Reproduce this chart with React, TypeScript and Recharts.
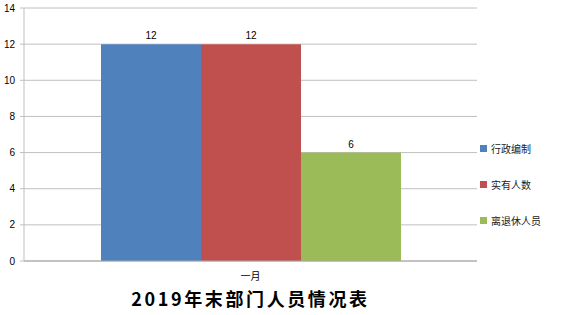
import { Bar, BarChart, CartesianGrid, LabelList, Legend, XAxis, YAxis, Label } from "recharts";

const categories = ["一月"];
const staffQuota = [12];
const actualCount = [12];
const retiredCount = [6];
const yTicks = [0, 2, 4, 6, 8, 10, 12, 14];

const SERIES = [
  { key: "quota", name: "行政编制", color: "#4F81BD" },
  { key: "actual", name: "实有人数", color: "#C0504D" },
  { key: "retired", name: "离退休人员", color: "#9BBB59" },
];

const data = categories.map((month, i) => ({
  month,
  quota: staffQuota[i],
  actual: actualCount[i],
  retired: retiredCount[i],
}));

const FONT = "'Liberation Sans', Arial, sans-serif";
const CJK = "'Noto Sans CJK SC', sans-serif";

function LegendBox() {
  return (
    <div style={{ width: 86, fontFamily: CJK, fontSize: 10, color: "#222" }}>
      {SERIES.map((s) => (
        <div key={s.key} style={{ height: 36, display: "flex", alignItems: "center", paddingLeft: 3 }}>
          <span style={{ width: 7, height: 7, background: s.color, marginRight: 4, display: "inline-block" }} />
          {s.name}
        </div>
      ))}
    </div>
  );
}

export default function App() {
  return (
    <div style={{ position: "absolute", left: 0, top: 0, background: "#fff" }}>
      <BarChart
        width={563}
        height={315}
        data={data}
        margin={{ top: 8, right: 0, left: 0, bottom: 0 }}
        barCategoryGap="17%"
        barGap={0}
      >
        <CartesianGrid stroke="#C0C0C0" vertical={false} />
        <XAxis
          dataKey="month"
          height={54}
          stroke="#A6A6A6"
          tickLine={false}
          tick={{ fill: "#000", fontSize: 10, fontFamily: CJK }}
          tickMargin={6}
        >
          <Label
            value="2019年末部门人员情况表"
            position="insideBottom"
            offset={9}
            style={{ fontSize: 18, fontWeight: 700, fontFamily: CJK, fill: "#000", letterSpacing: 2.6 }}
          />
        </XAxis>
        <YAxis
          width={24}
          domain={[0, 14]}
          ticks={yTicks}
          stroke="#BFBFBF"
          tickSize={4}
          tickMargin={5}
          tick={{ fill: "#000", fontSize: 10, fontFamily: FONT }}
          interval={0}
        />
        <Legend
          layout="vertical"
          align="right"
          verticalAlign="middle"
          content={() => <LegendBox />}
          wrapperStyle={{ top: 130 }}
        />
        {SERIES.map((s) => (
          <Bar key={s.key} dataKey={s.key} name={s.name} fill={s.color} isAnimationActive={false}>
            <LabelList dataKey={s.key} position="top" offset={5} style={{ fill: "#000", fontSize: 10, fontFamily: FONT }} />
          </Bar>
        ))}
      </BarChart>
    </div>
  );
}
